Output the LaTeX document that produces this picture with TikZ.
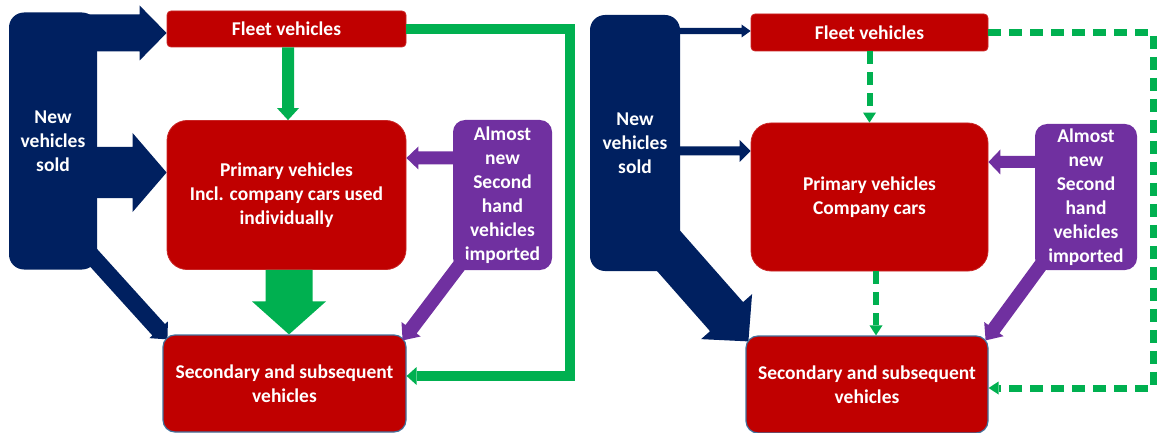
\documentclass[tikz,border=0pt]{standalone}
\usepackage{fontspec}
\setmainfont{Carlito}
\usetikzlibrary{calc,backgrounds}

\definecolor{navy}{HTML}{002060}
\definecolor{boxred}{HTML}{C00000}
\definecolor{flowgreen}{HTML}{00B050}
\definecolor{imppurple}{HTML}{7030A0}
\definecolor{edgeblue}{HTML}{41719C}

% block arrow: [fill options]{from}{tip}{shaft half width}{head half width}{head length}
\newcommand\barrow[6][]{%
  \path ($(#3)!#6!(#2)$) coordinate (bh);
  \fill[#1] ($(#2)!#4!90:(#3)$) -- ($(bh)!#4!90:(#3)$) -- ($(bh)!#5!90:(#3)$)
    -- (#3) -- ($(bh)!#5!-90:(#3)$) -- ($(bh)!#4!-90:(#3)$) -- ($(#2)!#4!-90:(#3)$) -- cycle;
}
% arrow head only: [fill options]{direction point}{tip}{head half width}{head length}
\newcommand\bhead[5][]{%
  \path ($(#3)!#5!(#2)$) coordinate (bh);
  \fill[#1] ($(bh)!#4!90:(#3)$) -- (#3) -- ($(bh)!#4!-90:(#3)$) -- cycle;
}

\tikzset{
  lbl/.style={text=white, font=\bfseries\fontsize{19.5}{24}\selectfont, align=center, inner sep=0pt},
  navybox/.style={lbl, fill=navy, rounded corners=15pt},
  redbox/.style={lbl, fill=boxred, draw=boxred!85!white, line width=0.8pt},
  secbox/.style={lbl, fill=boxred, draw=edgeblue, line width=1.2pt, rounded corners=12pt},
  impbox/.style={lbl, fill=imppurple, rounded corners=12pt},
  dashflow/.style={draw=flowgreen, dash pattern=on 13pt off 8pt, line join=miter},
}

\begin{document}
\begin{tikzpicture}[x=1pt,y=-1pt]
\path[use as bounding box] (0,0) rectangle (1157,433);

% ---------------- left panel ----------------
\node[navybox, minimum width=88pt, minimum height=257pt] (newL) at (53,141) {New\\vehicles\\sold};
\node[redbox, rounded corners=4pt, minimum width=239pt, minimum height=36pt] (fleetL) at (286.5,29) {Fleet vehicles};
\node[redbox, rounded corners=20pt, minimum width=239pt, minimum height=149pt] (primL) at (286.5,195) {Primary vehicles\\Incl. company cars used\\individually};
\node[secbox, minimum width=243pt, minimum height=97pt] (secL) at (284.5,383.5) {Secondary and subsequent\\vehicles};
\node[impbox, minimum width=99pt, minimum height=150pt] (purL) at (502.5,195) {Almost\\new\\Second\\hand\\vehicles\\imported};

\coordinate (nTopL) at ($(fleetL.west)+(0,4)$);
\coordinate (nMidL) at ($(primL.west)+(0,-22.5)$);
\coordinate (nDiagL) at ($(secL.north west)+(5,5)$);
\begin{scope}[on background layer]
  \barrow[navy]{85,33}{nTopL}{18.5pt}{27.5pt}{27pt}
  \barrow[navy]{85,172.5}{nMidL}{25.5pt}{39.5pt}{34pt}
  \barrow[navy]{82,245}{nDiagL}{8.5pt}{12.5pt}{13pt}
\end{scope}

\coordinate (gA1) at ($(fleetL.south)+(1.5,0)$);
\coordinate (gB1) at (gA1 |- primL.north);
\barrow[flowgreen]{gA1}{gB1}{6pt}{11pt}{12pt}
\coordinate (gA2) at ($(primL.south)+(2.5,0)$);
\coordinate (gB2) at (gA2 |- secL.north);
\barrow[flowgreen]{gA2}{gB2}{23.5pt}{37pt}{33pt}

\coordinate (loopTipL) at ($(secL.east)+(0,-7.5)$);
\coordinate (loopCornL) at (570,376);
\draw[flowgreen, line width=10pt, line join=miter] (fleetL.east) -| (loopCornL) -- ($(loopTipL)+(10,0)$);
\bhead[flowgreen]{loopCornL}{loopTipL}{9pt}{10pt}

\coordinate (pA1) at ($(purL.west)+(2,-37)$);
\coordinate (pB1) at (primL.east |- pA1);
\barrow[imppurple]{pA1}{pB1}{6.5pt}{11.5pt}{12pt}
\coordinate (pB2) at ($(secL.north east)+(-4,6)$);
\barrow[imppurple]{465,258}{pB2}{7pt}{12pt}{14pt}

% ---------------- right panel ----------------
\node[navybox, minimum width=90pt, minimum height=256pt] (newR) at (635,143) {New\\vehicles\\sold};
\node[redbox, rounded corners=4pt, minimum width=237pt, minimum height=37pt] (fleetR) at (869.5,32.5) {Fleet vehicles};
\node[redbox, rounded corners=20pt, minimum width=237pt, minimum height=148pt] (primR) at (869.5,197) {Primary vehicles\\Company cars};
\node[secbox, minimum width=242pt, minimum height=97pt] (secR) at (867,384.5) {Secondary and subsequent\\vehicles};
\node[impbox, minimum width=102pt, minimum height=146pt] (purR) at (1086,197) {Almost\\new\\Second\\hand\\vehicles\\imported};

\coordinate (nTopR) at ($(fleetR.west)+(0,-1.5)$);
\coordinate (nMidR) at ($(primR.west)+(0,-46)$);
\coordinate (nDiagR) at ($(secR.north west)+(3,6)$);
\begin{scope}[on background layer]
  \barrow[navy]{670,31}{nTopR}{3.2pt}{6.5pt}{9pt}
  \barrow[navy]{670,151}{nMidR}{4.5pt}{11pt}{11pt}
  \barrow[navy]{659,240}{nDiagR}{22pt}{34pt}{33pt}
\end{scope}

\coordinate (dA1) at (fleetR.south);
\coordinate (dB1) at (primR.north);
\draw[dashflow, line width=6pt] (dA1) -- ($(dB1)!10pt!(dA1)$);
\bhead[flowgreen]{dA1}{dB1}{6.5pt}{10pt}
\coordinate (dA2) at ($(primR.south)+(6.5,0)$);
\coordinate (dB2) at (dA2 |- secR.north);
\draw[dashflow, line width=6pt] (dA2) -- ($(dB2)!10pt!(dA2)$);
\bhead[flowgreen]{dA2}{dB2}{6.5pt}{10pt}

\coordinate (loopTipR) at ($(secR.east)+(0,3.5)$);
\coordinate (loopCornR) at (1153,388);
\draw[dashflow, line width=7pt] (fleetR.east) -| (loopCornR) -- ($(loopTipR)+(10,0)$);
\bhead[flowgreen]{loopCornR}{loopTipR}{6.5pt}{10pt}

\coordinate (pA3) at ($(purR.west)+(2,-35)$);
\coordinate (pB3) at (primR.east |- pA3);
\barrow[imppurple]{pA3}{pB3}{6pt}{12.5pt}{12pt}
\coordinate (pB4) at ($(secR.north east)+(-3,5)$);
\barrow[imppurple]{1046,258}{pB4}{7pt}{12pt}{14pt}
\end{tikzpicture}
\end{document}
